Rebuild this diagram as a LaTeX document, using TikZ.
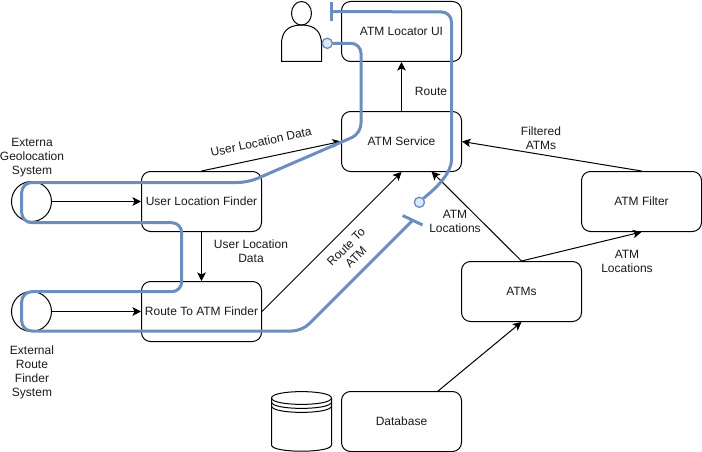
\documentclass[tikz,border=0pt]{standalone}
\usepackage{fontspec}
\setmainfont{Liberation Sans}
\usetikzlibrary{arrows.meta,calc}
\definecolor{wire}{HTML}{6C8EBF}
\definecolor{ballfill}{HTML}{DAE8FC}
\definecolor{ink}{HTML}{1A1A1A}
\tikzset{
  comp/.style={draw=black,line width=1pt,rounded corners=9pt,minimum width=120pt,minimum height=60pt,inner sep=0pt,text=ink,font=\fontsize{12}{14}\selectfont},
  extcircle/.style={circle,draw=black,line width=1pt,minimum size=40pt,inner sep=0pt},
  flow/.style={draw=black,line width=1pt,-{Stealth[length=8.5pt,width=8.5pt,inset=2pt]}},
  lab/.style={text=ink,font=\fontsize{12}{14}\selectfont,align=center,inner sep=1pt},
  wireline/.style={draw=wire,line width=3pt,rounded corners=10pt},
  wirebar/.style={draw=wire,line width=3pt},
  ball/.style={circle,draw=wire,fill=ballfill,line width=1.2pt,minimum size=10pt,inner sep=0pt},
  shapeline/.style={draw=black,line width=1pt}
}
\begin{document}
\begin{tikzpicture}[x=1pt,y=-1pt]
\useasboundingbox (0,0) rectangle (702,452);
\node[comp] (ui) at (401.5,31.5) {ATM Locator UI};
\node[comp] (svc) at (401.5,141.5) {ATM Service};
\node[comp] (ulf) at (201.5,201.5) {User Location Finder};
\node[comp] (rtf) at (201.5,311.5) {Route To ATM Finder};
\node[comp] (atms) at (521.5,291.5) {ATMs};
\node[comp] (filter) at (641.5,201.5) {ATM Filter};
\node[comp] (db) at (401.5,421.5) {Database};
\node[extcircle] (geo) at (31.5,201.5) {};
\node[extcircle] (route) at (31.5,311.5) {};
% actor
\draw[shapeline] (301.5,13.3) ellipse [x radius=10,y radius=11.8];
\draw[shapeline] (281.5,61.3) -- (281.5,44) .. controls (281.5,33) and (287,25) .. (301.5,25) .. controls (316,25) and (321.5,33) .. (321.5,44) -- (321.5,61.3) -- cycle;
% cylinder
\draw[shapeline] (271.5,398) .. controls (271.5,389.5) and (331.5,389.5) .. (331.5,398) -- (331.5,445) .. controls (331.5,453.3) and (271.5,453.3) .. (271.5,445) -- cycle;
\draw[shapeline] (271.5,398) .. controls (271.5,406.5) and (331.5,406.5) .. (331.5,398);
\draw[shapeline] (271.5,402) .. controls (271.5,410.5) and (331.5,410.5) .. (331.5,402);
\draw[shapeline] (271.5,406) .. controls (271.5,414.5) and (331.5,414.5) .. (331.5,406);
% flows
\draw[flow] (geo.east) -- (ulf.west);
\draw[flow] (route.east) -- (rtf.west);
\draw[flow] (ulf.north) -- (svc.west);
\draw[flow] (ulf.south) -- (rtf.north);
\draw[flow] (rtf.east) -- (svc.south);
\draw[flow] (svc.north) -- (ui.south);
\coordinate (svcin) at (431.5,171.5);
\coordinate (dbout) at (437.5,391.5);
\draw[flow] (atms.north) -- (svcin);
\draw[flow] (atms.north) -- (filter.south);
\draw[flow] (filter.north) -- (svc.east);
\draw[flow] (dbout) -- (atms.south);
% labels
\node[lab] (l1) at (32,158) {Externa\\Geolocation\\System};
\node[lab] (l2) at (32,372) {External\\Route\\Finder\\System};
\node[lab,rotate=12,fill=white] (l3) at (261,142) {User Location Data};
\node[lab] (l4) at (251,251) {User Location\\Data};
\node[lab,rotate=45] (l5) at (351,252) {Route To\\ATM};
\node[lab] (l6) at (431,91) {Route};
\node[lab] (l7) at (541,138) {Filtered\\ATMs};
\node[lab] (l8) at (455,221) {ATM\\Locations};
\node[lab] (l9) at (627,261.5) {ATM\\Locations};
% blue wires
\node[ball] (ballA) at (327.3,43.3) {};
\node[ball] (ballB) at (419.4,202.3) {};
\coordinate (barAtop) at (331.5,2);
\coordinate (barAbot) at (331.5,21);
\coordinate (barAmid) at (331.5,11.5);
\coordinate (barBa) at (402.7,215.5);
\coordinate (barBb) at (422.5,225);
\coordinate (barBmid) at (412.6,220.3);
\draw[wireline] (ballA.east) -- (361,43.3) -- (361,133.6) -- (248,182.5) -- (21.7,182.5) -- (21.7,222.7) -- (181.7,222.7) -- (181.7,291.7) -- (21.7,291.7) -- (21.7,331) -- (302,331) -- (barBmid);
\draw[wirebar] (barBa) -- (barBb);
\draw[wirebar] (barAtop) -- (barAbot);
\draw[wireline] (ballB.north east) .. controls (438,187) and (451.5,172) .. (451.5,150) -- (451.5,12) -- (barAmid);
\node[ball] at (ballA) {};
\node[ball] at (ballB) {};
\end{tikzpicture}
\end{document}
